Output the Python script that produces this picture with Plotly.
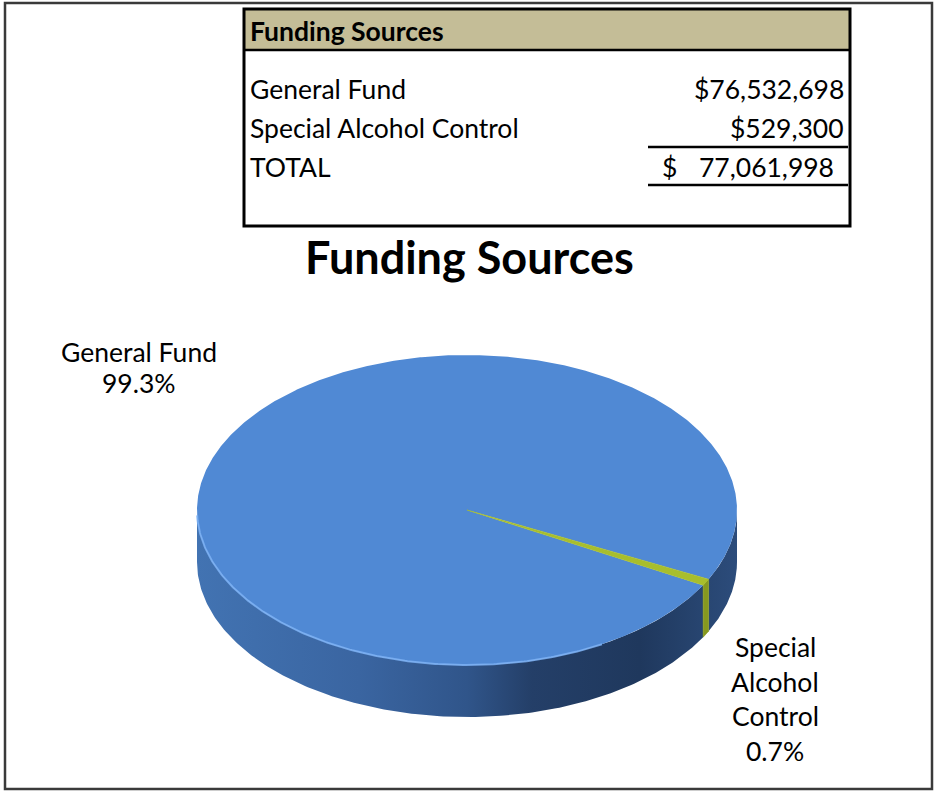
import numpy as np
import plotly.graph_objects as go

# ---- data ----
sources = ["General Fund", "Special Alcohol Control"]
amounts = [76532698, 529300]
slice_label_lines = [["General Fund"], ["Special", "Alcohol", "Control"]]
chart_title = "Funding Sources"
table_title = "Funding Sources"
total_label = "TOTAL"

# ---- styling ----
FONT = "Lato"
TXT = 26.5
W, H = 936, 791
top_colors = ["#5089D4", "#A8BE2C"]
side_green = "#86991F"
side_blue_scale = [
    [0.0, "#4273B2"], [0.3, "#3A65A1"], [0.5, "#30558A"],
    [0.62, "#243F68"], [0.82, "#1F385D"], [1.0, "#2C4C7B"],
]

# pie geometry (pixel space of the hidden axes)
CX, CY = 467, 510
RX, RY = 270, 155
DEPTH = 52
FIRST_ANGLE = 119.0  # clockwise from 12 o'clock

total = sum(amounts)
fracs = np.array(amounts, dtype=float) / total
spans = fracs * 360.0
starts = FIRST_ANGLE + np.concatenate([[0.0], np.cumsum(spans)[:-1]])
ends = starts + spans


def ell(phi_deg, drop=0.0):
    p = np.radians(phi_deg)
    return CX + RX * np.sin(p), CY - RY * np.cos(p) + drop


fig = go.Figure()

# ---- side walls (front half only: 90..270 deg) ----
for i, (a, b) in enumerate(zip(starts, ends)):
    for k in (0, 1, -1):
        lo, hi = max(a, 90 + 360 * k), min(b, 270 + 360 * k)
        if hi <= lo:
            continue
        ph = np.linspace(lo, hi, 200)
        xt, yt = ell(ph)
        xb, yb = ell(ph[::-1], DEPTH)
        xs = np.concatenate([xt, xb, xt[:1]])
        ys = np.concatenate([yt, yb, yt[:1]])
        if i == 0:
            fig.add_trace(go.Scatter(
                x=xs, y=ys, mode="lines", fill="toself",
                line=dict(width=0), hoverinfo="skip", showlegend=False,
                fillgradient=dict(type="horizontal", colorscale=side_blue_scale,
                                  start=CX - RX, stop=CX + RX)))
        else:
            fig.add_trace(go.Scatter(
                x=xs, y=ys, mode="lines", fill="toself", fillcolor=side_green,
                line=dict(width=0.6, color=side_green), hoverinfo="skip",
                showlegend=False))

# ---- top faces ----
for i, (a, b) in enumerate(zip(starts, ends)):
    ph = np.linspace(a, b, max(int((b - a) * 3), 6))
    xa, ya = ell(ph)
    xs = np.concatenate([[CX], xa, [CX]])
    ys = np.concatenate([[CY], ya, [CY]])
    fig.add_trace(go.Scatter(
        x=xs, y=ys, mode="lines", fill="toself", fillcolor=top_colors[i],
        line=dict(width=0.6 if i else 0, color=top_colors[i]),
        hoverinfo="skip", showlegend=False))

# light rim along the front-left edge
ph = np.linspace(150, 268, 200)
xr, yr = ell(ph)
fig.add_trace(go.Scatter(x=xr, y=yr, mode="lines",
                         line=dict(color="rgba(125,178,245,0.85)", width=2),
                         hoverinfo="skip", showlegend=False))

# ---- slice labels ----
label_pos = [(139, 352, 31), (775, 647, 34.7)]
for lines, f, (lx, ly, step) in zip(slice_label_lines, fracs, label_pos):
    for j, txt in enumerate(lines + [f"{f * 100:.1f}%"]):
        fig.add_annotation(x=lx, y=ly + j * step, text=txt, showarrow=False,
                           xanchor="center", yanchor="middle",
                           font=dict(family=FONT, size=TXT, color="black"))

# ---- chart title ----
fig.add_annotation(x=469, y=257, text=f"<b>{chart_title}</b>", showarrow=False,
                   xanchor="center", yanchor="middle",
                   font=dict(family=FONT, size=45, color="black"))

# ---- table ----
shapes = [
    dict(type="rect", x0=5, y0=3, x1=932, y1=789,
         line=dict(color="#3A3A3A", width=2.5)),
    dict(type="rect", x0=244, y0=9, x1=850, y1=50, fillcolor="#C4BD97",
         line=dict(width=0)),
    dict(type="line", x0=244, y0=50, x1=850, y1=50,
         line=dict(color="black", width=2.5)),
    dict(type="rect", x0=244, y0=9, x1=850, y1=226,
         line=dict(color="black", width=3)),
    dict(type="line", x0=648, y0=147, x1=848, y1=147,
         line=dict(color="black", width=2.5)),
    dict(type="line", x0=648, y0=185, x1=848, y1=185,
         line=dict(color="black", width=2.5)),
]
for s in shapes:
    s.update(xref="x", yref="y", layer="above")
    fig.add_shape(**s)

fig.add_annotation(x=248, y=31, text=f"<b>{table_title}</b>", showarrow=False,
                   xanchor="left", yanchor="middle",
                   font=dict(family=FONT, size=TXT, color="black"))

row_y = [89, 128]
for name, amt, y in zip(sources, amounts, row_y):
    fig.add_annotation(x=248, y=y, text=name, showarrow=False, xanchor="left",
                       yanchor="middle", font=dict(family=FONT, size=TXT, color="black"))
    fig.add_annotation(x=846, y=y, text=f"${amt:,}", showarrow=False,
                       xanchor="right", yanchor="middle",
                       font=dict(family=FONT, size=TXT, color="black"))

fig.add_annotation(x=248, y=167, text=total_label, showarrow=False, xanchor="left",
                   yanchor="middle", font=dict(family=FONT, size=TXT, color="black"))
fig.add_annotation(x=660, y=167, text="$", showarrow=False, xanchor="left",
                   yanchor="middle", font=dict(family=FONT, size=TXT, color="black"))
fig.add_annotation(x=836, y=167, text=f"{total:,}", showarrow=False,
                   xanchor="right", yanchor="middle",
                   font=dict(family=FONT, size=TXT, color="black"))

fig.update_layout(
    width=W, height=H, margin=dict(l=0, r=0, t=0, b=0),
    paper_bgcolor="white", plot_bgcolor="white",
    xaxis=dict(range=[0, W], visible=False, fixedrange=True),
    yaxis=dict(range=[H, 0], visible=False, fixedrange=True),
    showlegend=False,
)

fig.write_html("out.html")
